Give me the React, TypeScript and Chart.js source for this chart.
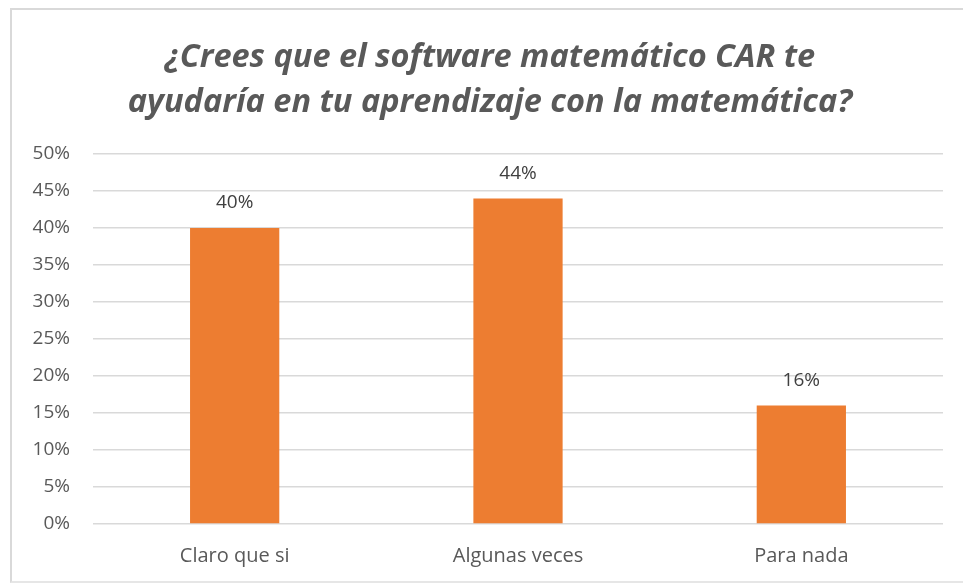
import React, { useEffect, useRef } from "react";
import { Chart, registerables } from "chart.js";

Chart.register(...registerables);

const titleLines = [
  "¿Crees que el software matemático CAR te",
  "ayudaría en tu aprendizaje con la matemática?",
];
const categories = ["Claro que si", "Algunas veces", "Para nada"];
const values = [0.4, 0.44, 0.16];
const yMin = 0;
const yMax = 0.5;
const yStep = 0.05;

const FONT = "'Open Sans', sans-serif";

const dataLabelPlugin = {
  id: "dataLabels",
  afterDatasetsDraw(chart: any) {
    const ctx = chart.ctx;
    const meta = chart.getDatasetMeta(0);
    ctx.save();
    ctx.font = `19px ${FONT}`;
    ctx.fillStyle = "#404040";
    ctx.textAlign = "center";
    ctx.textBaseline = "middle";
    meta.data.forEach((bar: any, i: number) => {
      const v = chart.data.datasets[0].data[i] as number;
      ctx.fillText(Math.round(v * 100) + "%", bar.x, bar.y - 25);
    });
    ctx.restore();
  },
};

export default function App() {
  const ref = useRef<HTMLCanvasElement>(null);
  useEffect(() => {
    if (!ref.current) return;
    const chart = new Chart(ref.current, {
      type: "bar",
      data: {
        labels: categories,
        datasets: [
          {
            data: values,
            backgroundColor: "#ED7D31",
            categoryPercentage: 1,
            barPercentage: 0.315,
          },
        ],
      },
      options: {
        animation: false,
        responsive: false,
        layout: { padding: 0 },
        plugins: {
          legend: { display: false },
          tooltip: { enabled: false },
          title: {
            display: true,
            text: titleLines,
            color: "#595959",
            font: { family: FONT, size: 32.5, weight: "bold", style: "italic", lineHeight: 1.385 },
            padding: { top: 25, bottom: 29 },
          },
        },
        scales: {
          x: {
            grid: { display: false, drawTicks: false },
            border: { display: false },
            ticks: { color: "#595959", font: { family: FONT, size: 20 }, padding: 20 },
            afterFit(scale: any) {
              scale.height = 57;
            },
          },
          y: {
            min: yMin,
            max: yMax,
            grid: { color: "#d9d9d9", lineWidth: 1.5, drawTicks: false },
            border: { display: false },
            ticks: {
              stepSize: yStep,
              color: "#595959",
              font: { family: FONT, size: 19 },
              padding: 23,
              callback: (v: any) => Math.round(Number(v) * 100) + "%",
            },
            afterFit(scale: any) {
              scale.width = 81;
            },
          },
          yRight: {
            position: "right",
            display: true,
            min: yMin,
            max: yMax,
            grid: { display: false, drawTicks: false },
            border: { display: false },
            ticks: { display: false },
            afterFit(scale: any) {
              scale.width = 25;
            },
          },
        },
      },
      plugins: [dataLabelPlugin],
    });
    return () => chart.destroy();
  }, []);

  return (
    <div style={{ position: "fixed", left: 0, top: 0, width: 963, height: 583, overflow: "hidden", background: "#fff" }}>
      <div
        style={{
          position: "absolute",
          left: 10,
          top: 8,
          width: 960,
          height: 571,
          borderTop: "2px solid #d9d9d9",
          borderLeft: "2px solid #d9d9d9",
          borderBottom: "2px solid #e6e6e6",
          background: "#fff",
        }}
      >
        <canvas ref={ref} width={956} height={571} style={{ display: "block" }} />
      </div>
    </div>
  );
}
